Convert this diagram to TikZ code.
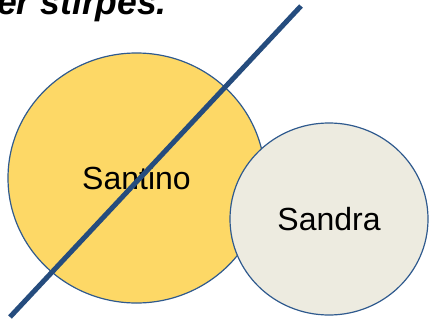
\documentclass[tikz,border=0pt]{standalone}
\usepackage{fontspec}
\setmainfont{Liberation Sans}
\usetikzlibrary{shapes.geometric}
\definecolor{gold}{HTML}{FDD866}
\definecolor{cream}{HTML}{EDEBE0}
\definecolor{rim}{HTML}{2F5A8E}
\definecolor{slash}{HTML}{254C7E}
\tikzset{
  person/.style={ellipse, draw=rim, line width=1.2pt, inner sep=0pt,
    font=\fontsize{32}{36}\selectfont, text=black},
  strike/.style={draw=slash, line width=5pt}
}
\begin{document}
\begin{tikzpicture}[x=1pt,y=-1pt]
\useasboundingbox (0,0) rectangle (430,321);
\clip (0,0) rectangle (430,321);
\node[anchor=base west, inner sep=0pt, font=\fontsize{35.5}{40}\selectfont\bfseries\itshape] (title) at (-3,15) {er stirpes.};
\node[person, fill=gold, minimum width=257pt, minimum height=250pt] (santino) at (136.5,178) {Santino};
\node[person, fill=cream, minimum width=198pt, minimum height=192pt] (sandra) at (329,219) {Sandra};
\coordinate (top) at (301,6);
\coordinate (bot) at (10,317);
\draw[strike] (top) -- (bot);
\end{tikzpicture}
\end{document}
